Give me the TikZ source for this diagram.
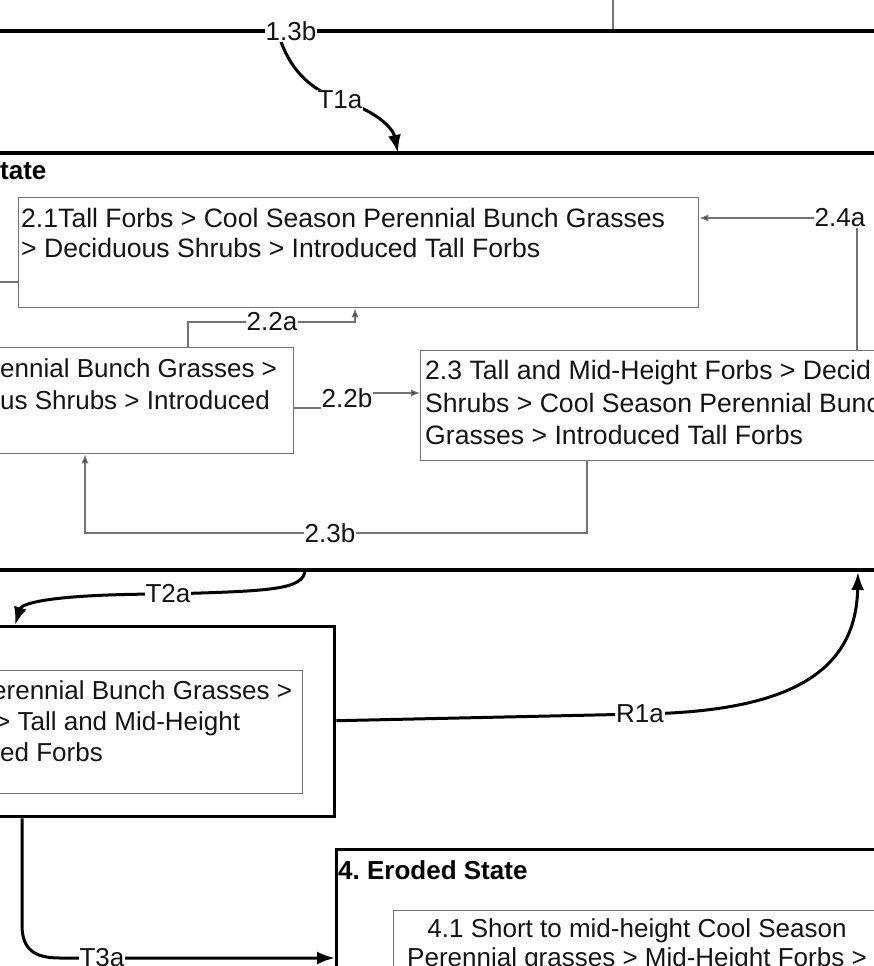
\documentclass[tikz,border=0pt]{standalone}
\usepackage{fontspec}
\setmainfont{Liberation Sans}
\usetikzlibrary{arrows.meta,backgrounds}
\frenchspacing
\begin{document}
\begin{tikzpicture}[x=1pt,y=-1pt,
  thickline/.style={line width=3.4pt, draw=black},
  thinline/.style={line width=1.1pt, draw=black!55},
  thinbox/.style={draw=black!55, line width=1.3pt, inner sep=0pt, anchor=north west},
  statebox/.style={draw=black, line width=3.4pt, inner sep=0pt, anchor=north west},
  thinconn/.style={thinline, -{Latex[length=9pt,width=7pt,fill=black!75]}},
  thickconn/.style={line width=3pt, draw=black, -{Latex[length=18pt,width=13pt]}},
  lbl/.style={fill=white, inner sep=1pt, text=black!92, font=\fontsize{26}{30}\selectfont},
  txt/.style={anchor=base west, inner sep=0pt, text=black!92, font=\fontsize{26}{30}\selectfont},
  wtxt/.style={txt, font=\fontsize{26.6}{30}\selectfont},
  ctxt/.style={anchor=base, inner sep=0pt, text=black!92, font=\fontsize{26}{30}\selectfont},
  ttl/.style={anchor=base west, inner sep=0pt, text=black, font=\bfseries\fontsize{26}{30}\selectfont},
]
\useasboundingbox (0,0) rectangle (874,966);

% boxes
\node[thinbox, minimum width=680pt, minimum height=110pt] (b21) at (18,197) {};
\node[thinbox, minimum width=303pt, minimum height=106pt] (b22) at (-10,347) {};
\node[thinbox, minimum width=480pt, minimum height=110pt] (b23) at (420,350) {};
\node[statebox, minimum width=343pt, minimum height=190pt] (s3) at (-10,625) {};
\node[thinbox, minimum width=312pt, minimum height=123pt] (s3in) at (-10,670) {};
\node[statebox, minimum width=560pt, minimum height=140pt] (s4) at (335,848) {};
\node[thinbox, minimum width=520pt, minimum height=100pt] (s4in) at (393,910) {};

% texts
\node[ttl] (t2title) at (0,179) {tate};
\node[wtxt] (t21a) at (21,227) {2.1Tall Forbs > Cool Season Perennial Bunch Grasses};
\node[wtxt] (t21b) at (21,257) {> Deciduous Shrubs > Introduced Tall Forbs};
\node[txt] (t22a) at (0,377) {ennial Bunch Grasses >};
\node[txt] (t22b) at (0,409) {us Shrubs > Introduced};
\node[wtxt] (t23a) at (425,379) {2.3 Tall and Mid-Height Forbs > Decid};
\node[wtxt] (t23b) at (425,412) {Shrubs > Cool Season Perennial Bunc};
\node[wtxt] (t23c) at (425,444) {Grasses > Introduced Tall Forbs};
\node[txt] (t3a) at (-8,699) {erennial Bunch Grasses >};
\node[txt] (t3b) at (-5,730) {> Tall and Mid-Height};
\node[txt] (t3c) at (0,761) {ed Forbs};
\node[ttl] (t4title) at (338,879) {4. Eroded State};
\node[ctxt] (t41a) at (637,937) {4.1 Short to mid-height Cool Season};
\node[ctxt] (t41b) at (637,966) {Perennial grasses > Mid-Height Forbs >};

% labels
\node[lbl] (l13b) at (291,31) {1.3b};
\node[lbl] (lT1a) at (340,100) {T1a};
\node[lbl] (l24a) at (840,218) {2.4a};
\node[lbl] (l22a) at (272,322) {2.2a};
\node[lbl] (l22b) at (347,398) {2.2b};
\node[lbl] (l23b) at (330,533) {2.3b};
\node[lbl] (lT2a) at (168,594) {T2a};
\node[lbl] (lR1a) at (640,714) {R1a};
\node[lbl] (lT3a) at (102,958) {T3a};

\coordinate (c24) at (857,218);
\coordinate (c22a) at (355,322);
\coordinate (c22b) at (347,408);
\coordinate (c22bb) at (347,393);
\coordinate (c23b) at (587,533);
\coordinate (c23bb) at (85,533);
\coordinate (s1l) at (0,31);
\coordinate (s1r) at (874,31);
\coordinate (s1v) at (613,0);
\coordinate (s2tl) at (0,153);
\coordinate (s2tr) at (874,153);
\coordinate (s2bl) at (0,570);
\coordinate (s2br) at (874,570);
\coordinate (t1end) at (398,153);
\coordinate (t2start) at (305,570);
\coordinate (t2end) at (15,625);
\coordinate (r1end) at (858,572);
\coordinate (lin) at (0,282);

\begin{scope}[on background layer]
  \draw[thinline] (s1v) -- (s1v |- s1l);
  \draw[thickline] (s1l) -- (s1r);
  \draw[thickline] (s2tl) -- (s2tr);
  \draw[thickline] (s2bl) -- (s2br);
  % T1a
  \draw[thickconn] ([xshift=-10pt]l13b.south) .. controls (292,72) and (312,90) .. (lT1a.center)
      .. controls (375,110) and (393,128) .. (t1end);
  % T2a
  \draw[thickconn] (t2start) .. controls (304,590) and (270,591) .. (lT2a.center)
      .. controls (60,594) and (22,602) .. (t2end);
  % R1a
  \draw[thickconn] ([yshift=1pt]s3.east) -- (lR1a.center)
      .. controls (790,712) and (856,672) .. (r1end);
  % T3a
  \draw[thickconn] (s3.south -| 22,0) -- (22,925) .. controls (22,950) and (35,958) .. (60,958)
      -- (s4.west |- lT3a);
  % thin connectors
  \draw[thinconn] (b23.north -| c24) |- (b21.east |- c24);
  \draw[thinconn] (b22.north -| 188,0) |- (c22a) -- (b21.south -| c22a);
  \draw[thinconn] (b22.east |- c22b) -- (c22b) -- (c22bb) -- (b23.west |- c22bb);
  \draw[thinconn] (b23.south -| c23b) |- (c23bb) -- (b22.south -| c23bb);
  \draw[thinline] (lin) -- (b21.west |- lin);
\end{scope}
\end{tikzpicture}
\end{document}
